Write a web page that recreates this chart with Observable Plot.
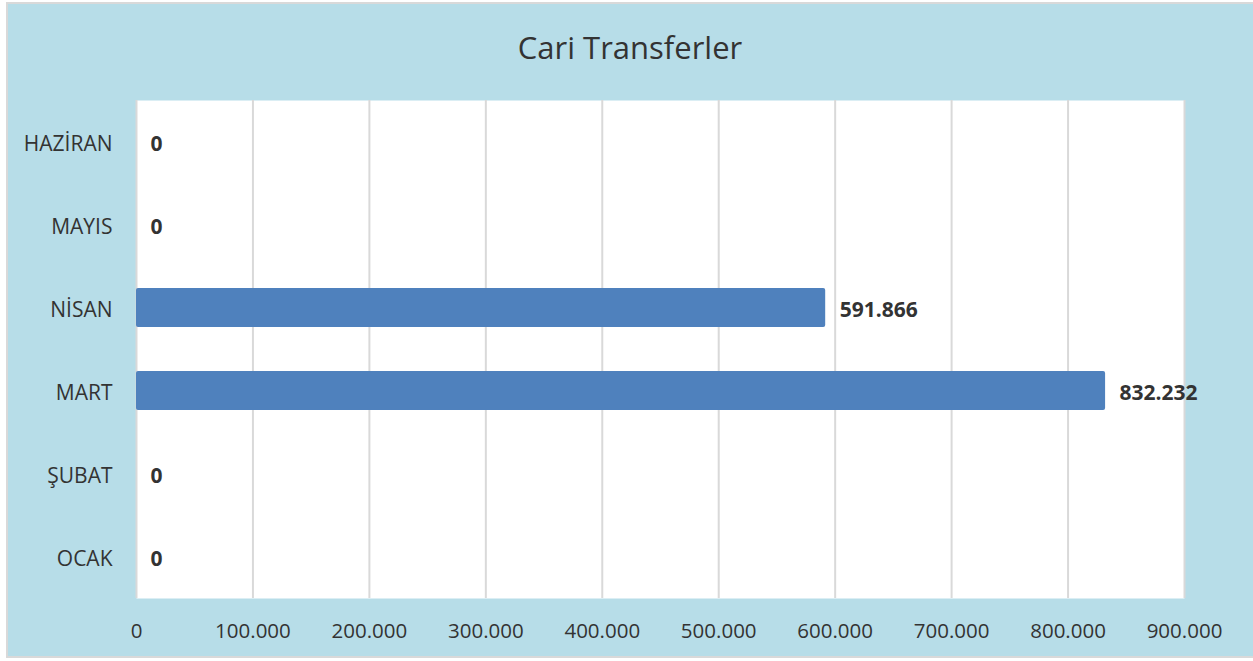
<!DOCTYPE html>
<html>
<head>
<meta charset="utf-8">
<script src="https://cdn.jsdelivr.net/npm/d3@7"></script>
<script src="https://cdn.jsdelivr.net/npm/@observablehq/plot@0.6"></script>
<style>
  html, body { margin: 0; padding: 0; background: #ffffff; }
  #page { position: relative; width: 1253px; height: 661px; overflow: hidden; font-family: "Open Sans", sans-serif; }
  #frame { position: absolute; left: 6px; top: 2px; width: 1260px; height: 656px; background: #b7dde8; border: 2px solid #d9d9d9; box-sizing: border-box; }
  #title { position: absolute; left: 0; width: 1260px; top: 26px; text-align: center; font-size: 31px; color: #333333; line-height: 42px; }
  #chart { position: absolute; left: 0; top: 0; }
</style>
</head>
<body>
<div id="page">
  <div id="frame"></div>
  <div id="title">Cari Transferler</div>
  <div id="chart"></div>
</div>
<script>
const months = ["OCAK", "ŞUBAT", "MART", "NİSAN", "MAYIS", "HAZİRAN"];
const values = [0, 0, 832232, 591866, 0, 0];
const xTicks = [0, 100000, 200000, 300000, 400000, 500000, 600000, 700000, 800000, 900000];

const data = months.map((m, i) => ({month: m, value: values[i]}));
const trFormat = d3.formatLocale({decimal: ",", thousands: ".", grouping: [3], currency: ["", ""]}).format(",d");

const chart = Plot.plot({
  width: 1253,
  height: 661,
  marginLeft: 136,
  marginRight: 69,
  marginTop: 100,
  marginBottom: 63,
  style: {background: "transparent", fontFamily: "Open Sans, sans-serif", fontSize: "20px", color: "#333333"},
  x: {domain: [0, 900000], ticks: xTicks, tickFormat: trFormat, label: null},
  y: {domain: months.slice().reverse(), paddingInner: 0.53, paddingOuter: 0.265, label: null},
  marks: [
    Plot.frame({fill: "white", stroke: "none"}),
    Plot.gridX(xTicks, {stroke: "#d9d9d9", strokeWidth: 2, strokeOpacity: 1}),
    Plot.barX(data, {x: "value", y: "month", fill: "#4f81bd", rx: 2}),
    Plot.text(data, {x: "value", y: "month", text: d => trFormat(d.value), dx: 14, dy: 2, textAnchor: "start", fontWeight: "bold", fontSize: 21, fill: "#333333"}),
    Plot.axisX({ticks: xTicks, tickFormat: trFormat, tickSize: 0, tickPadding: 25, fontSize: 20.5, fill: "#333333", label: null}),
    Plot.axisY({tickSize: 0, tickPadding: 24, dy: 2, fontSize: 21, fill: "#333333", label: null})
  ]
});
document.getElementById("chart").appendChild(chart);
</script>
</body>
</html>
